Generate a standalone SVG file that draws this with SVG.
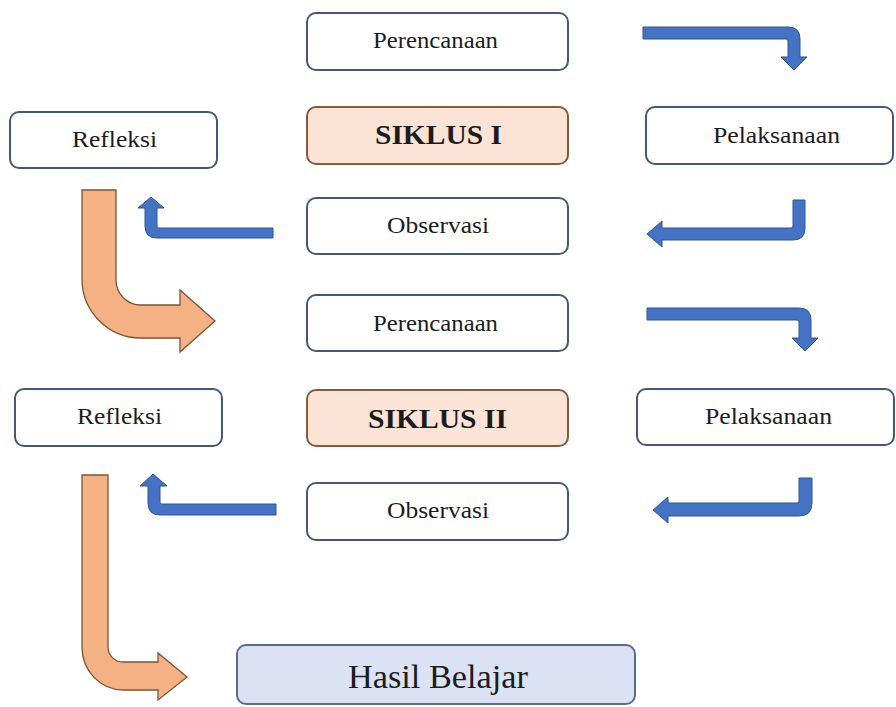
<svg xmlns="http://www.w3.org/2000/svg" width="896" height="707" viewBox="0 0 896 707">
<style>
.box{fill:#ffffff;stroke:#43597c;stroke-width:2}
.siklus{fill:#fbe4d5;stroke:#86593d;stroke-width:2}
.hasil{fill:#dae2f4;stroke:#5b6b88;stroke-width:2}
.lbl{font-family:"Liberation Serif","Times New Roman",serif;font-size:24px;fill:#1c1c1c;text-anchor:middle}
.bold{font-weight:bold;font-size:28px}
.big{font-size:33px}
.blue{fill:#4472c4;stroke:#2f5597;stroke-width:1}
.orange{fill:#f4b183;stroke:#7a5434;stroke-width:1.3}
</style>
<rect width="896" height="707" fill="#ffffff"/>
<g id="connectors">
<path class="blue" d="M643,27 L788,27 Q800,27 800,39 L800,57 L807,57 L794,70 L781,57 L788,57 L788,41 Q788,39 786,39 L643,39 Z"/>
<path class="blue" d="M805,200 L805,228 Q805,240 793,240 L662,240 L662,247 L647,234 L662,221 L662,228 L791,228 Q793,228 793,226 L793,200 Z"/>
<path class="blue" d="M273,228 L159,228 Q157,228 157,226 L157,208 L164,208 L151,197 L138,208 L145,208 L145,226 Q145,238 157,238 L273,238 Z"/>
<path class="orange" d="M82,190 L116,190 L116,280 A25,25 0 0 0 141,305 L180,305 L180,290 L215,321 L180,352 L180,338 L141,338 A59,59 0 0 1 82,279 Z"/>
<path class="blue" d="M647,308 L799,308 Q811,308 811,320 L811,338 L818,338 L805,351 L792,338 L799,338 L799,322 Q799,320 797,320 L647,320 Z"/>
<path class="blue" d="M812,478 L812,503 Q812,516 799,516 L668,516 L668,523 L653,510 L668,497 L668,503 L797,503 Q799,503 799,501 L799,478 Z"/>
<path class="blue" d="M276,504 L162,504 Q160,504 160,502 L160,486 L167,486 L153,474 L140,486 L148,486 L148,503 Q148,515 160,515 L276,515 Z"/>
<path class="orange" d="M82,475 L108,475 L108,647 A15,15 0 0 0 123,662 L158,662 L158,653 L187,677 L158,700 L158,690 L123,690 A41,43 0 0 1 82,647 Z"/>
</g>
<g id="perencanaan1"><rect class="box" x="307" y="13" width="261" height="57" rx="9"/><text class="lbl" x="435.5" y="48" textLength="125" lengthAdjust="spacingAndGlyphs">Perencanaan</text></g>
<g id="siklus1"><rect class="siklus" x="307" y="107" width="261" height="57" rx="9"/><text class="lbl bold" x="438.5" y="144" textLength="127" lengthAdjust="spacingAndGlyphs">SIKLUS I</text></g>
<g id="observasi1"><rect class="box" x="307" y="198" width="261" height="56" rx="9"/><text class="lbl" x="438" y="233" textLength="102" lengthAdjust="spacingAndGlyphs">Observasi</text></g>
<g id="perencanaan2"><rect class="box" x="307" y="295" width="261" height="56" rx="9"/><text class="lbl" x="435.5" y="331" textLength="125" lengthAdjust="spacingAndGlyphs">Perencanaan</text></g>
<g id="siklus2"><rect class="siklus" x="307" y="390" width="261" height="56" rx="9"/><text class="lbl bold" x="437.5" y="428" textLength="139" lengthAdjust="spacingAndGlyphs">SIKLUS II</text></g>
<g id="observasi2"><rect class="box" x="307" y="483" width="261" height="57" rx="9"/><text class="lbl" x="438" y="518" textLength="102" lengthAdjust="spacingAndGlyphs">Observasi</text></g>
<g id="refleksi1"><rect class="box" x="10" y="112" width="207" height="56" rx="9"/><text class="lbl" x="114.5" y="147" textLength="85" lengthAdjust="spacingAndGlyphs">Refleksi</text></g>
<g id="refleksi2"><rect class="box" x="15" y="389" width="207" height="57" rx="9"/><text class="lbl" x="119.5" y="424" textLength="85" lengthAdjust="spacingAndGlyphs">Refleksi</text></g>
<g id="pelaksanaan1"><rect class="box" x="646" y="107" width="247" height="57" rx="9"/><text class="lbl" x="776.5" y="143" textLength="127" lengthAdjust="spacingAndGlyphs">Pelaksanaan</text></g>
<g id="pelaksanaan2"><rect class="box" x="637" y="389" width="257" height="56" rx="9"/><text class="lbl" x="768.5" y="424" textLength="127" lengthAdjust="spacingAndGlyphs">Pelaksanaan</text></g>
<g id="hasil"><rect class="hasil" x="237" y="645" width="398" height="59" rx="9"/><text class="lbl big" x="438" y="688" textLength="180" lengthAdjust="spacingAndGlyphs">Hasil Belajar</text></g>
</svg>
